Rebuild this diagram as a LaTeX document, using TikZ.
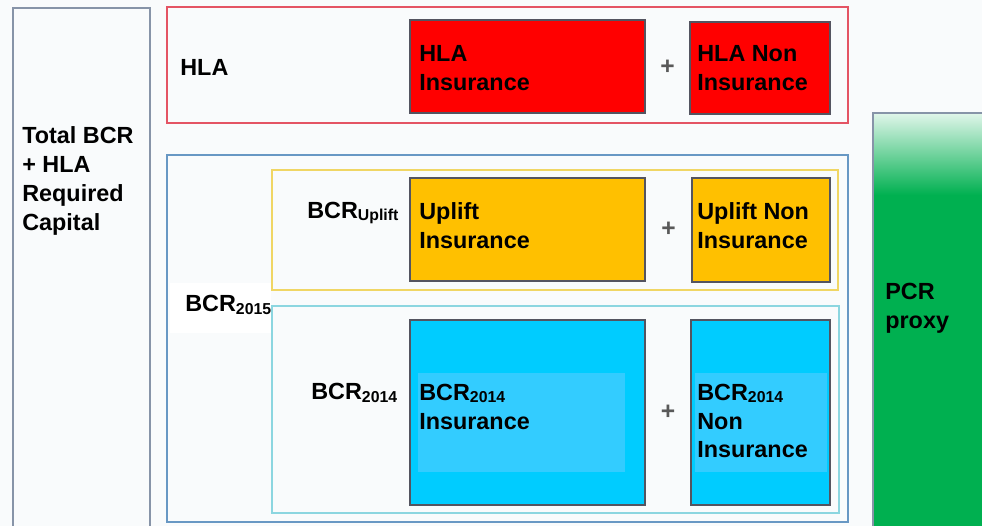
\documentclass[tikz,border=0pt]{standalone}
\usepackage{fontspec}
\setmainfont{Liberation Sans}
\usetikzlibrary{calc, fit, positioning}
\definecolor{hlared}{RGB}{255,0,0}
\definecolor{upliftorange}{RGB}{255,192,0}
\definecolor{bcrcyan}{RGB}{0,204,255}
\definecolor{bcrcyanlight}{RGB}{51,204,255}
\definecolor{pcrgreen}{RGB}{0,176,80}
\definecolor{pagebg}{RGB}{249,251,252}
\definecolor{edgegrey}{RGB}{135,148,168}
\definecolor{edgered}{RGB}{228,84,100}
\definecolor{edgeblue}{RGB}{104,152,196}
\definecolor{edgeyellow}{RGB}{240,214,100}
\definecolor{edgecyan}{RGB}{140,214,224}
\definecolor{cellgrey}{RGB}{84,84,96}
\newcommand{\subtxt}[1]{\raisebox{-1.3pt}{\fontsize{9}{10}\selectfont #1}}
\tikzset{
    outerbox/.style = {draw=#1, line width=1.3pt, fill=pagebg, inner sep=0pt},
    cell/.style = {draw=cellgrey, line width=1.1pt, fill=#1, inner sep=0pt},
    lbl/.style = {font=\bfseries\fontsize{13.3}{16.4}\selectfont, align=left, inner sep=0pt, anchor=west},
    plussign/.style = {font=\bfseries\fontsize{14}{14}\selectfont, text=black!65, inner sep=0pt},
}

\begin{document}
\begin{tikzpicture}[x=0.02cm, y=-0.02cm]
\useasboundingbox[fill=pagebg] (0,0) rectangle (982,526);
\clip (0,0) rectangle (982,526);

\node[outerbox=edgegrey, fit={(13,8) (150,540)}] (total) {};
\node[lbl] (totaltxt) at (22,181) {Total BCR\\+ HLA\\Required\\Capital};

% HLA row
\node[outerbox=edgered, fit={(167,7) (848,123)}] (hla) {};
\node[lbl] (hlatxt) at (180,67) {HLA};
\node[cell=hlared, fit={(410,20) (645,113)}] (hlains) {};
\node[cell=hlared, fit={(690,22) (830,114)}] (hlanon) {};
\node[plussign] (hlaplus) at ($(hlains.east)!.5!(hlanon.west)$) {+};
\node[lbl] (hlainstxt) at (419,68) {HLA\\Insurance};
\node[lbl] (hlanontxt) at (697,68) {HLA Non\\Insurance};

% BCR 2015 = uplift + 2014
\node[outerbox=edgeblue, fit={(167,155) (848,522)}] (bcr15) {};
\node[outerbox=edgeyellow, fit={(272,170) (838,290)}] (uplift) {};
\node[outerbox=edgecyan, fit={(272,306) (839,513)}] (bcr14) {};
\node[fill=white, inner sep=0pt, fit={(170,283) (271,333)}] (bcr15patch) {};
\node[lbl] (bcr15txt) at (185,305) {BCR\subtxt{2015}};

\node[lbl] (uplifttxt) at (307,213) {BCR\subtxt{Uplift}};
\node[cell=upliftorange, fit={(410,178) (645,281)}] (upins) {};
\node[cell=upliftorange, fit={(692,178) (830,282)}] (upnon) {};
\node[plussign] (upplus) at ($(upins.east)!.5!(upnon.west)$) {+};
\node[lbl] (upinstxt) at (419,226) {Uplift\\Insurance};
\node[lbl] (upnontxt) at (697,226) {Uplift Non\\Insurance};

\node[lbl] (bcr14txt) at (311,393) {BCR\subtxt{2014}};
\node[cell=bcrcyan, fit={(410,320) (645,505)}] (bcrins) {};
\node[cell=bcrcyan, fit={(691,320) (830,505)}] (bcrnon) {};
\node[fill=bcrcyanlight, inner sep=0pt, fit={(418,373) (625,472)}] (bcrinsband) {};
\node[fill=bcrcyanlight, inner sep=0pt, fit={(695,373) (827,472)}] (bcrnonband) {};
\node[plussign] (bcrplus) at ($(bcrins.east)!.5!(bcrnon.west)$) {+};
\node[lbl] (bcrinstxt) at (419,407) {BCR\subtxt{2014}\\Insurance};
\node[lbl] (bcrnontxt) at (697,421) {BCR\subtxt{2014}\\Non\\Insurance};

% PCR proxy, fading out towards the top
\node[fill=pcrgreen, inner sep=0pt, fit={(873,113) (1000,540)}] (pcr) {};
\shade[top color=pcrgreen!12!white, bottom color=pcrgreen] (873,113) rectangle (1000,195);
\draw[edgegrey, line width=1.3pt] (pcr.south west) rectangle (pcr.north east);
\node[lbl] (pcrtxt) at (885,308) {PCR\\proxy};
\end{tikzpicture}
\end{document}
